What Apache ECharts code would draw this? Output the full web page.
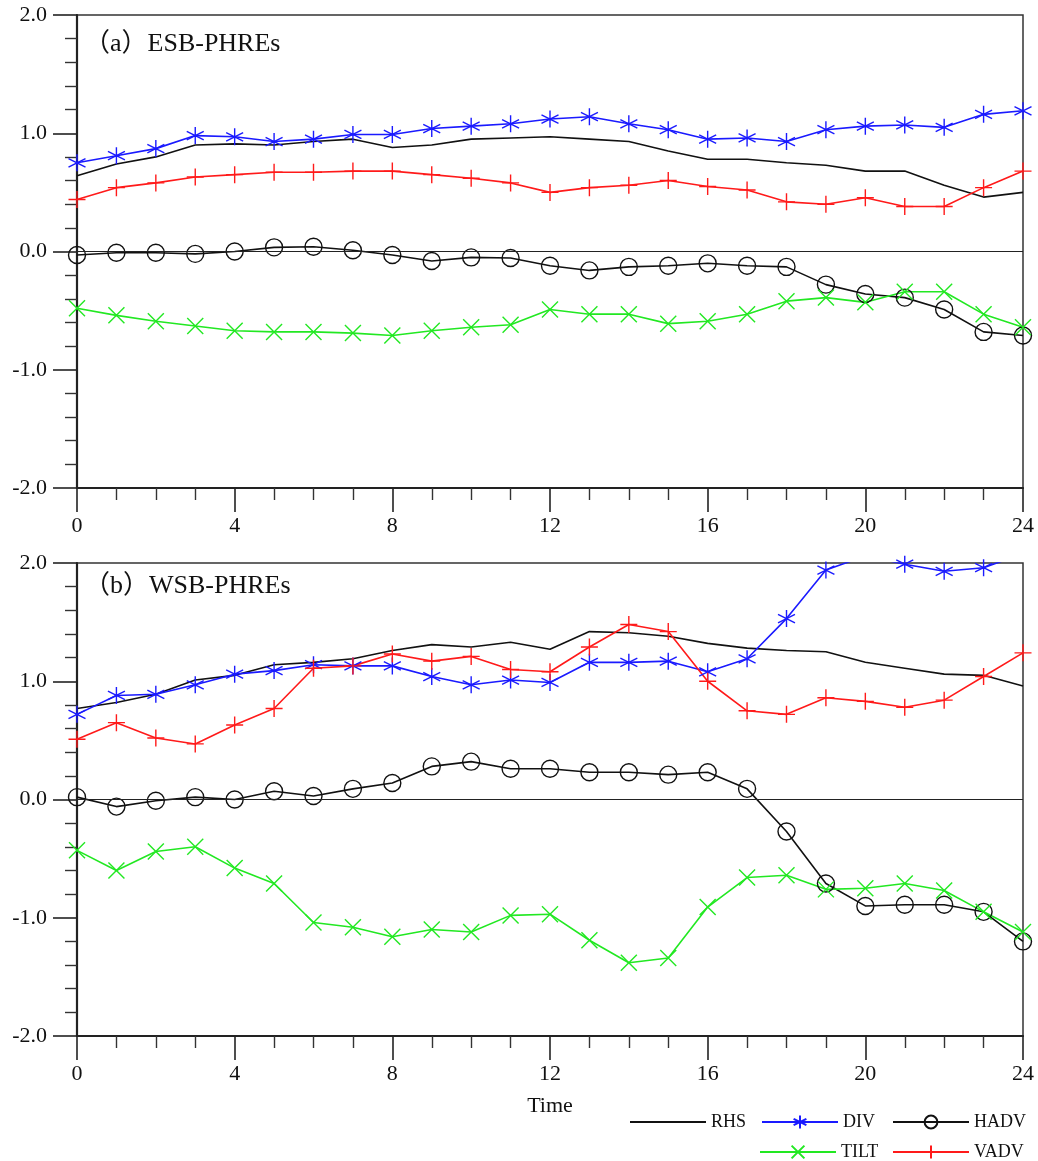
<!DOCTYPE html>
<html><head><meta charset="utf-8">
<script src="https://cdn.jsdelivr.net/npm/echarts@6/dist/echarts.min.js"></script>
<style>html,body{margin:0;padding:0;background:#fff}#c{width:1038px;height:1161px}</style>
</head><body><div id="c"></div>
<script>
const hours = [0,1,2,3,4,5,6,7,8,9,10,11,12,13,14,15,16,17,18,19,20,21,22,23,24];
const panelTitles = ['（a）ESB-PHREs', '（b）WSB-PHREs'];
const seriesNames = ['RHS','DIV','HADV','TILT','VADV'];

const esbRHS  = [0.64,0.74,0.80,0.90,0.91,0.90,0.93,0.95,0.88,0.90,0.95,0.96,0.97,0.95,0.93,0.85,0.78,0.78,0.75,0.73,0.68,0.68,0.56,0.46,0.50];
const esbDIV  = [0.75,0.81,0.87,0.98,0.97,0.93,0.95,0.99,0.99,1.04,1.06,1.08,1.12,1.14,1.08,1.03,0.95,0.96,0.93,1.03,1.06,1.07,1.05,1.16,1.19];
const esbHADV = [-0.03,-0.01,-0.01,-0.02,0.00,0.035,0.04,0.01,-0.03,-0.08,-0.05,-0.055,-0.12,-0.16,-0.13,-0.12,-0.10,-0.12,-0.13,-0.28,-0.36,-0.39,-0.49,-0.68,-0.71];
const esbTILT = [-0.48,-0.54,-0.59,-0.63,-0.67,-0.68,-0.68,-0.69,-0.71,-0.67,-0.64,-0.62,-0.49,-0.53,-0.53,-0.61,-0.59,-0.53,-0.42,-0.39,-0.43,-0.34,-0.34,-0.53,-0.64];
const esbVADV = [0.44,0.54,0.58,0.63,0.65,0.67,0.67,0.68,0.68,0.65,0.62,0.58,0.50,0.54,0.56,0.60,0.55,0.52,0.42,0.40,0.455,0.38,0.38,0.54,0.68];

const wsbRHS  = [0.77,0.82,0.89,1.01,1.05,1.14,1.16,1.19,1.26,1.31,1.29,1.33,1.27,1.42,1.41,1.38,1.32,1.28,1.26,1.25,1.16,1.11,1.06,1.05,0.96];
const wsbDIV  = [0.72,0.88,0.89,0.97,1.06,1.09,1.14,1.13,1.13,1.04,0.97,1.01,0.99,1.16,1.16,1.17,1.08,1.19,1.53,1.94,2.06,1.99,1.93,1.96,2.08];
const wsbHADV = [0.02,-0.06,-0.01,0.02,0.00,0.07,0.03,0.09,0.14,0.28,0.32,0.26,0.26,0.23,0.23,0.21,0.23,0.09,-0.27,-0.71,-0.90,-0.89,-0.89,-0.95,-1.20];
const wsbTILT = [-0.43,-0.60,-0.44,-0.40,-0.58,-0.71,-1.04,-1.08,-1.16,-1.10,-1.12,-0.98,-0.97,-1.19,-1.38,-1.34,-0.91,-0.66,-0.64,-0.76,-0.75,-0.71,-0.77,-0.95,-1.12];
const wsbVADV = [0.51,0.65,0.52,0.47,0.63,0.77,1.11,1.13,1.23,1.17,1.21,1.10,1.08,1.29,1.48,1.42,1.00,0.75,0.72,0.86,0.83,0.78,0.84,1.04,1.24];

const FONT = 'Liberation Serif, "Times New Roman", serif';
const STAR = 'path://M10,0L10,20M1.34,5L18.66,15M1.34,15L18.66,5';
const XMARK = 'path://M0,0L20,20M0,20L20,0';
const PLUS = 'path://M10,0L10,20M0,10L20,10';

const styles = {
  RHS:  {color:'#111111', symbol:'none'},
  DIV:  {color:'#1a1aff', symbol:STAR, size:17},
  HADV: {color:'#111111', symbol:'circle', size:17},
  TILT: {color:'#22e822', symbol:XMARK, size:16},
  VADV: {color:'#ff1a1a', symbol:PLUS, size:17}
};

function mk(name, arr, gi) {
  const st = styles[name];
  const s = {
    name, type:'line', xAxisIndex:gi, yAxisIndex:gi,
    data: hours.map((h,i)=>[h, arr[i]]),
    clip:true, animation:false,
    lineStyle:{color:st.color, width:1.6},
    symbol: st.symbol, symbolSize: st.size || 0, showSymbol: st.symbol !== 'none',
    itemStyle:{color:'rgba(0,0,0,0)', borderColor:st.color, borderWidth:1.4},
    emphasis:{disabled:true}
  };
  if (name === 'RHS') {
    s.itemStyle = {color:st.color};
    s.markLine = {silent:true, symbol:'none', label:{show:false}, animation:false,
      lineStyle:{color:'#222', width:1, type:'solid'}, data:[{yAxis:0}]};
  }
  return s;
}

function xAx(gi, withName) {
  const a = {type:'value', gridIndex:gi, min:0, max:24, interval:4,
    axisLine:{show:true, onZero:false, lineStyle:{color:'#222', width:2.2}},
    axisTick:{show:true, length:24, lineStyle:{color:'#222', width:1.6}},
    minorTick:{show:true, splitNumber:4, length:12, lineStyle:{color:'#333', width:1.4}},
    axisLabel:{fontFamily:FONT, fontSize:22, color:'#111', margin:27},
    splitLine:{show:false}, minorSplitLine:{show:false}};
  if (withName) {
    a.name = 'Time'; a.nameLocation = 'middle'; a.nameGap = 59;
    a.nameTextStyle = {fontFamily:FONT, fontSize:22, color:'#111'};
  }
  return a;
}
function yAx(gi) {
  return {type:'value', gridIndex:gi, min:-2, max:2, interval:1,
    axisLine:{show:true, onZero:false, lineStyle:{color:'#222', width:2.2}},
    axisTick:{show:true, length:24, lineStyle:{color:'#222', width:1.6}},
    minorTick:{show:true, splitNumber:5, length:12, lineStyle:{color:'#333', width:1.4}},
    axisLabel:{fontFamily:FONT, fontSize:22, color:'#111', margin:30, formatter:v=>v.toFixed(1)},
    splitLine:{show:false}, minorSplitLine:{show:false}};
}

const series = [];
[[esbRHS,esbDIV,esbHADV,esbTILT,esbVADV],[wsbRHS,wsbDIV,wsbHADV,wsbTILT,wsbVADV]].forEach((set,gi)=>{
  seriesNames.forEach((n,k)=>series.push(mk(n, set[k], gi)));
});

const legendText = {fontFamily:FONT, fontSize:18, color:'#111'};
const legendPos = {RHS:[629,1113], DIV:[761,1113], HADV:[892,1113], TILT:[759,1143], VADV:[892,1143]};
const legends = seriesNames.map(n=>{
  const item = n === 'RHS' ? {name:n, itemStyle:{color:'rgba(0,0,0,0)', opacity:0}} : {name:n};
  return {data:[item], left:legendPos[n][0], top:legendPos[n][1], itemWidth:76, itemHeight:16,
    selectedMode:false, textStyle:legendText, padding:0};
});

const option = {
  backgroundColor:'#fff',
  animation:false,
  title: panelTitles.map((t,i)=>({text:t, left:84, top:[31,573][i], padding:0,
    textStyle:{fontFamily:'Liberation Serif, "Noto Sans CJK SC", serif', fontSize:26, fontWeight:'normal', color:'#111'}})),
  grid:[
    {left:77, top:15, width:946, height:473, show:true, borderColor:'#333', borderWidth:1.5},
    {left:77, top:563, width:946, height:473, show:true, borderColor:'#333', borderWidth:1.5}
  ],
  xAxis:[xAx(0,false), xAx(1,true)],
  yAxis:[yAx(0), yAx(1)],
  legend:legends,
  series
};
const chart = echarts.init(document.getElementById('c'), null, {renderer:'canvas'});
chart.setOption(option);
</script>
</body></html>
